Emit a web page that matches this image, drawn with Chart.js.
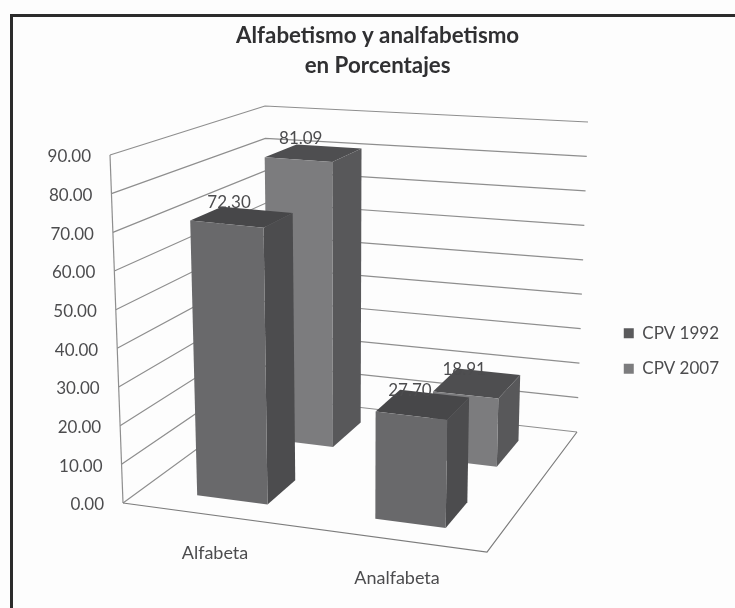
<!DOCTYPE html>
<html>
<head>
<meta charset="utf-8">
<title>Alfabetismo y analfabetismo</title>
<script src="https://cdn.jsdelivr.net/npm/chart.js@4"></script>
<style>
html, body { margin: 0; padding: 0; background: #fdfdfd; }
#wrap { width: 735px; height: 608px; position: relative; }
</style>
</head>
<body>
<div id="wrap"><canvas id="chart" width="735" height="608"></canvas></div>
<script>
var categories = ['Alfabeta', 'Analfabeta'];
var seriesNames = ['CPV 1992', 'CPV 2007'];
var cpv1992 = [72.30, 27.70];
var cpv2007 = [81.09, 18.91];
var titleLines = ['Alfabetismo y analfabetismo', 'en Porcentajes'];
var tickValues = [0, 10, 20, 30, 40, 50, 60, 70, 80, 90];

var faceColors = [
    { front: '#69696b', side: '#4c4c4e', top: '#474749', legend: '#5a5a5c' },
    { front: '#7c7c7e', side: '#58585a', top: '#4e4e50', legend: '#7c7c7e' }
];
var depthCenters = [0.25, 0.77];
var textColor = '#4c4c4e';
var gridColor = '#8e8e8e';
var font = 'Lato, Carlito, sans-serif';

// corners of the 3d box as seen in the picture
var box = {
    bottom: { fl: [123, 503], fr: [487, 552], bl: [268, 397], br: [577, 432] },
    top: { fl: [110, 155], fr: [494, 192], bl: [265, 106], br: [588, 122] }
};

function lerp(a, b, t) {
    return [a[0] + (b[0] - a[0]) * t, a[1] + (b[1] - a[1]) * t];
}

// u along categories, v along series depth, w along values, all 0..1
function project(u, v, w) {
    var b = lerp(lerp(box.bottom.fl, box.bottom.fr, u), lerp(box.bottom.bl, box.bottom.br, u), v);
    var t = lerp(lerp(box.top.fl, box.top.fr, u), lerp(box.top.bl, box.top.br, u), v);
    return lerp(b, t, w);
}

function poly(ctx, pts, fill, stroke) {
    ctx.beginPath();
    pts.forEach(function (p, i) {
        if (i === 0) ctx.moveTo(p[0], p[1]);
        else ctx.lineTo(p[0], p[1]);
    });
    if (fill) {
        ctx.closePath();
        ctx.fillStyle = fill;
        ctx.fill();
    }
    if (stroke) {
        ctx.strokeStyle = stroke;
        ctx.stroke();
    }
}

var chart3d = {
    id: 'chart3d',
    beforeDraw: function (chart) {
        var ctx = chart.ctx;
        // page frame, top and left only
        ctx.save();
        ctx.fillStyle = '#2b2b2b';
        ctx.fillRect(10, 14, 725, 3);
        ctx.fillRect(10, 14, 3, 594);
        ctx.restore();
    },
    beforeDatasetsDraw: function (chart) {
        var ctx = chart.ctx;
        var area = chart.chartArea;
        var yScale = chart.scales.y;
        var toU = function (px) { return (px - area.left) / (area.right - area.left); };
        var toW = function (py) { return (area.bottom - py) / (area.bottom - area.top); };

        ctx.save();
        ctx.lineWidth = 1.2;

        // walls
        yScale.ticks.forEach(function (tick) {
            var w = toW(yScale.getPixelForValue(tick.value));
            poly(ctx, [project(0, 0, w), project(0, 1, w), project(1, 1, w)], null, gridColor);
        });
        poly(ctx, [project(0, 0, 0), project(0, 0, 1)], null, gridColor);
        // floor
        poly(ctx, [project(0, 0, 0), project(1, 0, 0), project(1, 1, 0)], null, '#7c7c7c');

        // y labels
        ctx.font = '17px ' + font;
        ctx.fillStyle = textColor;
        ctx.textAlign = 'right';
        ctx.textBaseline = 'middle';
        yScale.ticks.forEach(function (tick) {
            var p = project(0, 0, toW(yScale.getPixelForValue(tick.value)));
            ctx.fillText(tick.label, p[0] - 19, p[1] + 2);
        });

        // x labels
        ctx.font = '18px ' + font;
        ctx.textAlign = 'center';
        chart.scales.x.ticks.forEach(function (tick, i) {
            var p = project(toU(chart.scales.x.getPixelForValue(tick.value)), 0, 0);
            ctx.fillText(chart.data.labels[i], p[0] + 1, p[1] + 38);
        });

        // bars, back series first
        var labels = [];
        for (var d = chart.data.datasets.length - 1; d >= 0; d--) {
            var meta = chart.getDatasetMeta(d);
            var colors = faceColors[d];
            var vc = depthCenters[d];
            var v0 = vc - 0.11;
            var v1 = vc + 0.11;
            meta.data.forEach(function (el, i) {
                var u0 = toU(el.x - el.width / 2);
                var u1 = toU(el.x + el.width / 2);
                var w = toW(el.y);
                poly(ctx, [project(u1, v0, 0), project(u1, v1, 0), project(u1, v1, w), project(u1, v0, w)], colors.side);
                poly(ctx, [project(u0, v0, w), project(u1, v0, w), project(u1, v1, w), project(u0, v1, w)], colors.top);
                poly(ctx, [project(u0, v0, 0), project(u1, v0, 0), project(u1, v0, w), project(u0, v0, w)], colors.front);
                labels.push({ p: project(toU(el.x), vc, w), text: chart.data.datasets[d].data[i].toFixed(2) });
            });
        }

        // data labels sit on top of everything
        ctx.font = '17px ' + font;
        ctx.fillStyle = textColor;
        ctx.textAlign = 'center';
        labels.forEach(function (l) {
            ctx.fillText(l.text, l.p[0] - 13, l.p[1] - 14);
        });
        ctx.restore();
        return false; // the native flat bars stay undrawn
    }
};

new Chart(document.getElementById('chart'), {
    type: 'bar',
    data: {
        labels: categories,
        datasets: [
            { label: seriesNames[0], data: cpv1992, backgroundColor: faceColors[0].legend },
            { label: seriesNames[1], data: cpv2007, backgroundColor: faceColors[1].legend }
        ]
    },
    options: {
        responsive: false,
        animation: false,
        layout: { padding: { left: 142, right: 6, top: 21, bottom: 0 } },
        datasets: { bar: { grouped: false, barPercentage: 0.395, categoryPercentage: 1 } },
        scales: {
            x: {
                grid: { display: false },
                border: { display: false },
                ticks: { display: false }
            },
            y: {
                min: tickValues[0],
                max: tickValues[tickValues.length - 1],
                grid: { display: false },
                border: { display: false },
                ticks: {
                    display: false,
                    stepSize: tickValues[1] - tickValues[0],
                    callback: function (value) { return value.toFixed(2); }
                }
            }
        },
        plugins: {
            tooltip: { enabled: false },
            title: {
                display: true,
                fullSize: false,
                text: titleLines,
                color: '#303032',
                font: { family: font, size: 22.3, weight: 'bold', lineHeight: 1.345 },
                padding: { top: 0, bottom: 21 }
            },
            legend: {
                position: 'right',
                fullSize: false,
                labels: {
                    color: textColor,
                    font: { family: font, size: 17 },
                    boxWidth: 10,
                    boxHeight: 10,
                    padding: 18.5
                }
            }
        }
    },
    plugins: [chart3d]
});
</script>
</body>
</html>
